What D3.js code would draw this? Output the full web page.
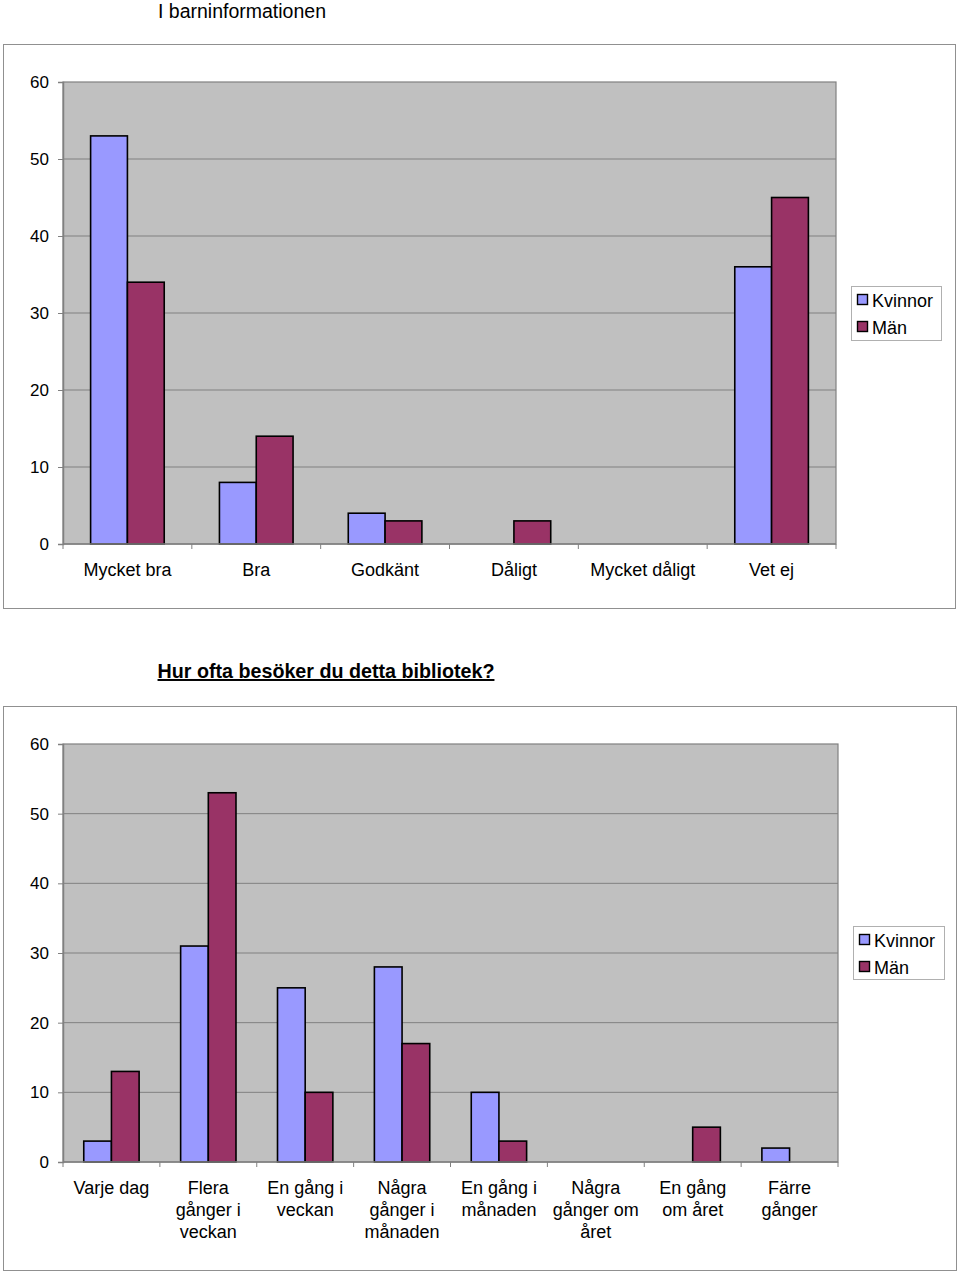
<!DOCTYPE html>
<html><head><meta charset="utf-8">
<script src="https://cdn.jsdelivr.net/npm/d3@7"></script>
<style>
body{margin:0;background:#fff;}
svg{display:block;font-family:"Liberation Sans",Arial,sans-serif;}
</style></head>
<body>
<svg id="c" width="960" height="1272"></svg>
<script>
const series = ["Kvinnor", "Män"];
const colors = ["#9999FF", "#993366"];
const yTicks = [0, 10, 20, 30, 40, 50, 60];

const title1 = "I barninformationen";
const categories1 = ["Mycket bra", "Bra", "Godkänt", "Dåligt", "Mycket dåligt", "Vet ej"];
const kvinnor1 = [53, 8, 4, 0, 0, 36];
const man1 = [34, 14, 3, 3, 0, 45];

const title2 = "Hur ofta besöker du detta bibliotek?";
const categories2 = ["Varje dag", "Flera\ngånger i\nveckan", "En gång i\nveckan", "Några\ngånger i\nmånaden", "En gång i\nmånaden", "Några\ngånger om\nåret", "En gång\nom året", "Färre\ngånger"];
const kvinnor2 = [3, 31, 25, 28, 10, 0, 0, 2];
const man2 = [13, 53, 10, 17, 3, 0, 5, 0];

const svg = d3.select("#c");

function drawChart(cfg) {
  const g = svg.append("g");
  // outer frame
  g.append("rect").attr("x", cfg.frame[0] + 0.5).attr("y", cfg.frame[1] + 0.5)
    .attr("width", cfg.frame[2] - cfg.frame[0]).attr("height", cfg.frame[3] - cfg.frame[1])
    .attr("fill", "#fff").attr("stroke", "#909090").attr("stroke-width", 1);

  // title
  const t = g.append("text").attr("x", cfg.titleX).attr("y", cfg.titleY)
    .attr("text-anchor", "middle").attr("font-size", cfg.titleSize).attr("fill", "#000").text(cfg.title);
  if (cfg.bold) t.attr("font-weight", "bold").attr("text-decoration", "underline");

  const [L, T, R, B] = cfg.plot;
  const x0 = d3.scaleBand().domain(cfg.categories).range([L, R]).paddingInner(0).paddingOuter(0);
  const x1 = d3.scaleBand().domain(series).range([0, x0.bandwidth()]).paddingInner(0).paddingOuter(0.75);
  const y = d3.scaleLinear().domain([0, 60]).range([B, T]);

  // plot background
  g.append("rect").attr("x", L).attr("y", T).attr("width", R - L).attr("height", B - T)
    .attr("fill", "#C0C0C0").attr("stroke", "#808080").attr("stroke-width", 1.2);

  // gridlines
  g.append("g").selectAll("line").data(yTicks.filter(d => d > 0 && d < 60)).join("line")
    .attr("x1", L).attr("x2", R).attr("y1", d => y(d)).attr("y2", d => y(d))
    .attr("stroke", "#808080").attr("stroke-width", 1);

  // bars
  const data = cfg.categories.map((c, i) => ({ c, vals: [cfg.k[i], cfg.m[i]] }));
  const cg = g.append("g").selectAll("g").data(data).join("g")
    .attr("transform", d => `translate(${x0(d.c)},0)`);
  cg.selectAll("rect").data(d => d.vals.map((v, j) => ({ v, s: series[j], j })).filter(e => e.v > 0))
    .join("rect")
    .attr("x", e => x1(e.s)).attr("width", x1.bandwidth())
    .attr("y", e => y(e.v)).attr("height", e => y(0) - y(e.v))
    .attr("fill", e => colors[e.j]).attr("stroke", "#000").attr("stroke-width", 1.6);

  // y axis
  const ya = d3.axisLeft(y).tickValues(yTicks).tickSize(5).tickPadding(9).tickFormat(d3.format("d"));
  const yg = g.append("g").attr("transform", `translate(${L},0)`).call(ya);
  yg.select(".domain").attr("stroke", "#808080").attr("stroke-width", 1.5);
  yg.selectAll(".tick line").attr("stroke", "#808080");
  yg.selectAll(".tick text").attr("font-size", 17).attr("fill", "#000")
    .attr("font-family", "Liberation Sans, Arial, sans-serif");

  // x axis
  const boundaries = cfg.categories.map(c => x0(c)).concat([R]);
  g.append("line").attr("x1", L).attr("x2", R).attr("y1", B).attr("y2", B)
    .attr("stroke", "#808080").attr("stroke-width", 1.5);
  g.append("g").selectAll("line").data(boundaries).join("line")
    .attr("x1", d => d).attr("x2", d => d).attr("y1", B).attr("y2", B + 5)
    .attr("stroke", "#808080").attr("stroke-width", 1);

  const lab = g.append("g").selectAll("text").data(cfg.categories).join("text")
    .attr("text-anchor", "middle").attr("font-size", 18).attr("fill", "#000")
    .attr("transform", d => `translate(${x0(d) + x0.bandwidth() / 2},${B + cfg.labelDy})`);
  lab.selectAll("tspan").data(d => d.split("\n")).join("tspan")
    .attr("x", 0).attr("y", (d, i) => i * 22).text(d => d);

  // legend
  const [lx, ly, lw, lh] = cfg.legend;
  const lg = g.append("g");
  lg.append("rect").attr("x", lx + 0.5).attr("y", ly + 0.5).attr("width", lw).attr("height", lh)
    .attr("fill", "#fff").attr("stroke", "#b0b0b0").attr("stroke-width", 1);
  series.forEach((s, i) => {
    const by = ly + 21 + i * 27;
    lg.append("rect").attr("x", lx + 6.5).attr("y", by - 12.5).attr("width", 10).attr("height", 10)
      .attr("fill", colors[i]).attr("stroke", "#000").attr("stroke-width", 1.4);
    lg.append("text").attr("x", lx + 21).attr("y", by).attr("font-size", 18).attr("fill", "#000").text(s);
  });
}

drawChart({
  frame: [3, 44, 955, 608], title: title1, titleX: 242, titleY: 17.5, titleSize: 19.5, bold: false,
  plot: [63, 82, 836, 544], categories: categories1, k: kvinnor1, m: man1,
  labelDy: 31.5, legend: [851, 286, 90, 54]
});
drawChart({
  frame: [3, 706, 956, 1270], title: title2, titleX: 326, titleY: 678, titleSize: 19.7, bold: true,
  plot: [63, 744, 838, 1162], categories: categories2, k: kvinnor2, m: man2,
  labelDy: 32, legend: [853, 926, 91, 53]
});
</script>
</body></html>
